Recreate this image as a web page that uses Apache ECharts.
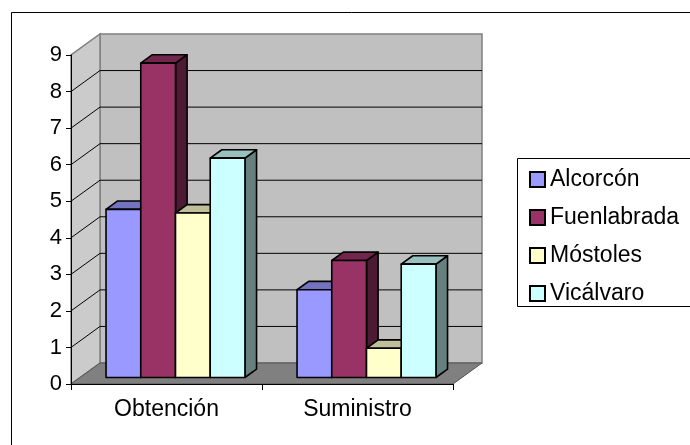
<!DOCTYPE html>
<html><head><meta charset="utf-8">
<script src="https://cdn.jsdelivr.net/npm/echarts@6/dist/echarts.min.js"></script>
<style>html,body{margin:0;padding:0;background:#fff}#c{width:690px;height:445px}</style>
</head><body><div id="c"></div>
<script>
const categories = ['Obtención', 'Suministro'];
const seriesNames = ['Alcorcón', 'Fuenlabrada', 'Móstoles', 'Vicálvaro'];
const alcorcon = [4.6, 2.4];
const fuenlabrada = [8.6, 3.2];
const mostoles = [4.5, 0.8];
const vicalvaro = [6.0, 3.1];
const yTicks = [0, 1, 2, 3, 4, 5, 6, 7, 8, 9];
const allValues = [alcorcon, fuenlabrada, mostoles, vicalvaro];

const frontColors = ['#9999FF', '#993366', '#FFFFCC', '#CCFFFF'];
const topColors = ['#7373BF', '#73264D', '#BFBF99', '#99BFBF'];
const sideColors = ['#4D4D80', '#4D1A33', '#808066', '#668080'];

const DX = 29, DY = 21;     // depth of floor / walls
const F0 = 0.31, F1 = 0.71; // bar depth slice
const FONT = 'Liberation Sans, Arial, sans-serif';

function renderWalls(params, api) {
  const cs = params.coordSys;
  const x0 = cs.x, x1 = cs.x + cs.width, yT = cs.y, yB = cs.y + cs.height;
  const ch = [];
  ch.push({type: 'rect', shape: {x: x0 + DX, y: yT - DY, width: cs.width, height: cs.height},
    style: {fill: '#C0C0C0', stroke: '#808080', lineWidth: 1.5}});
  ch.push({type: 'polygon', shape: {points: [[x0, yB], [x0, yT], [x0 + DX, yT - DY], [x0 + DX, yB - DY]]},
    style: {fill: '#CBCBCB', stroke: '#808080', lineWidth: 1.5}});
  ch.push({type: 'polygon', shape: {points: [[x0, yB], [x1, yB], [x1 + DX, yB - DY], [x0 + DX, yB - DY]]},
    style: {fill: '#808080', stroke: '#555555', lineWidth: 1}});
  yTicks.forEach(function (v) {
    if (v === yTicks[0] || v === yTicks[yTicks.length - 1]) return;
    const y = api.coord([0, v])[1];
    ch.push({type: 'line', shape: {x1: x0, y1: y, x2: x0 + DX, y2: y - DY}, style: {stroke: '#000', lineWidth: 1}});
    ch.push({type: 'line', shape: {x1: x0 + DX, y1: y - DY, x2: x1 + DX, y2: y - DY}, style: {stroke: '#000', lineWidth: 1}});
  });
  return {type: 'group', children: ch};
}

function makeBarSeries(idx) {
  return {
    type: 'custom',
    name: seriesNames[idx],
    z: 3 + idx,
    clip: false,
    itemStyle: {color: frontColors[idx]},
    encode: {x: 0, y: 1},
    data: allValues[idx].map(function (v, i) { return [i, v]; }),
    renderItem: function (params, api) {
      const c = api.value(0), v = api.value(1);
      const p = api.coord([c, v]), p0 = api.coord([c, 0]);
      const band = api.size([1, 0])[0];
      const bw = band / 5.5;
      const xl = p[0] - 2 * bw + idx * bw + DX * F0;
      const xr = xl + bw;
      const yt = p[1] - DY * F0, yb = p0[1] - DY * F0;
      const ddx = DX * (F1 - F0), ddy = DY * (F1 - F0);
      const st = {stroke: '#000', lineWidth: 1.6, lineJoin: 'round'};
      return {type: 'group', children: [
        {type: 'polygon', shape: {points: [[xr, yt], [xr, yb], [xr + ddx, yb - ddy], [xr + ddx, yt - ddy]]},
          style: Object.assign({fill: sideColors[idx]}, st)},
        {type: 'polygon', shape: {points: [[xl, yt], [xr, yt], [xr + ddx, yt - ddy], [xl + ddx, yt - ddy]]},
          style: Object.assign({fill: topColors[idx]}, st)},
        {type: 'rect', shape: {x: xl, y: yt, width: bw, height: yb - yt},
          style: Object.assign({fill: frontColors[idx]}, st)}
      ]};
    }
  };
}

const chart = echarts.init(document.getElementById('c'));
const series = [{
  type: 'custom', name: '_walls', z: 1, clip: false, silent: true,
  encode: {x: 0, y: 1}, data: [[0, 0]], renderItem: renderWalls
}];
for (let i = 0; i < seriesNames.length; i++) series.push(makeBarSeries(i));

chart.setOption({
  animation: false,
  backgroundColor: '#fff',
  grid: {left: 71, right: 237, top: 55, bottom: 61},
  xAxis: {
    type: 'category', data: categories, z: 10,
    axisLine: {lineStyle: {color: '#000', width: 1}},
    axisTick: {show: true, length: 6, lineStyle: {color: '#000'}},
    axisLabel: {fontSize: 23, color: '#000', fontFamily: FONT, margin: 14}
  },
  yAxis: {
    type: 'value', min: 0, max: 9, interval: 1, z: 10,
    axisLine: {show: true, lineStyle: {color: '#000', width: 1}},
    axisTick: {show: true, length: 5, lineStyle: {color: '#000'}},
    axisLabel: {fontSize: 22, color: '#000', fontFamily: FONT, margin: 9},
    splitLine: {show: false}
  },
  legend: {
    data: seriesNames, orient: 'vertical', left: 524, top: 163,
    icon: 'rect', itemWidth: 15, itemHeight: 15, itemGap: 15,
    itemStyle: {borderColor: '#000', borderWidth: 2},
    textStyle: {fontSize: 23, color: '#000', fontFamily: FONT, lineHeight: 22}
  },
  graphic: [
    {type: 'rect', shape: {x: 11.5, y: 12.5, width: 720, height: 460}, style: {fill: null, stroke: '#000', lineWidth: 1}, z: 100},
    {type: 'rect', shape: {x: 517.5, y: 158.5, width: 220, height: 148}, style: {fill: null, stroke: '#000', lineWidth: 1}, z: 100}
  ],
  series: series
});
</script></body></html>
